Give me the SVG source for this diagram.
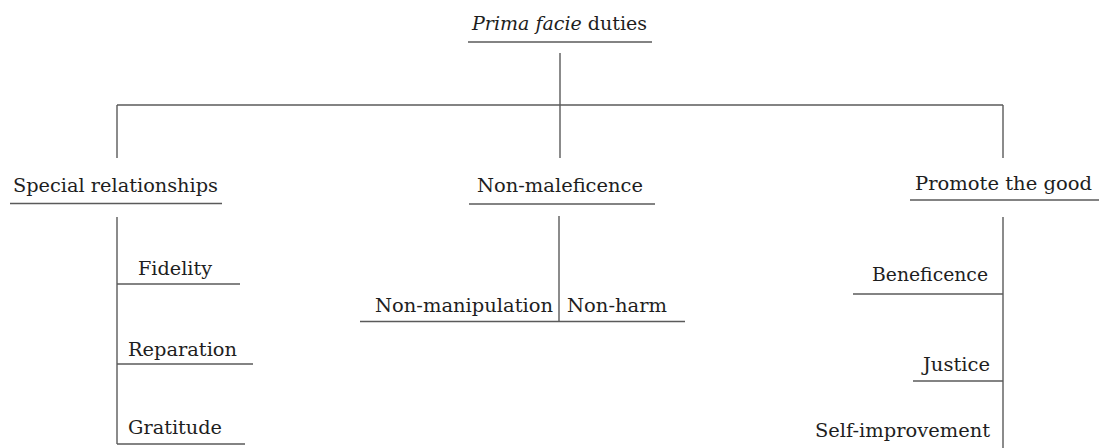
<svg xmlns="http://www.w3.org/2000/svg" width="1099" height="448" viewBox="0 0 1099 448">
  <style>
    .lbl { font-family: "DejaVu Serif", "Liberation Serif", serif; font-size: 19px; fill: #1e1e1e; }
    .ul { stroke: #5a5a5a; stroke-width: 1.4; fill: none; }
    .cn { stroke: #5a5a5a; stroke-width: 1.4; fill: none; }
  </style>
  <rect width="1099" height="448" fill="#ffffff"/>

  <!-- tree connectors -->
  <g id="connectors">
    <path class="cn" d="M560 53 V158"/>
    <path class="cn" d="M117 105 H1003"/>
    <path class="cn" d="M117 105 V158"/>
    <path class="cn" d="M1003 105 V158"/>
    <path class="cn" d="M117 217 V444"/>
    <path class="cn" d="M559 216 V322"/>
    <path class="cn" d="M1003 217 V448"/>
  </g>

  <g id="root">
    <text class="lbl" x="472" y="30" textLength="175" lengthAdjust="spacingAndGlyphs"><tspan font-style="italic">Prima facie</tspan> duties</text>
    <path class="ul" d="M468 42 H652"/>
  </g>

  <g id="special">
    <text class="lbl" x="13" y="192" textLength="205" lengthAdjust="spacingAndGlyphs">Special relationships</text>
    <path class="ul" d="M10 203.5 H222"/>
  </g>

  <g id="nonmaleficence">
    <text class="lbl" x="477" y="192" textLength="166" lengthAdjust="spacingAndGlyphs">Non-maleficence</text>
    <path class="ul" d="M469 204 H655"/>
  </g>

  <g id="promote">
    <text class="lbl" x="915" y="190" textLength="177" lengthAdjust="spacingAndGlyphs">Promote the good</text>
    <path class="ul" d="M910 200 H1099"/>
  </g>

  <g id="fidelity">
    <text class="lbl" x="138" y="275" textLength="74" lengthAdjust="spacingAndGlyphs">Fidelity</text>
    <path class="ul" d="M117 284 H240"/>
  </g>

  <g id="reparation">
    <text class="lbl" x="128" y="356" textLength="109" lengthAdjust="spacingAndGlyphs">Reparation</text>
    <path class="ul" d="M117 364 H253"/>
  </g>

  <g id="gratitude">
    <text class="lbl" x="128" y="434" textLength="94" lengthAdjust="spacingAndGlyphs">Gratitude</text>
    <path class="ul" d="M117 444 H245"/>
  </g>

  <g id="nonmanipulation">
    <text class="lbl" x="375" y="312" textLength="178" lengthAdjust="spacingAndGlyphs">Non-manipulation</text>
    <path class="ul" d="M360 321.5 H559"/>
  </g>

  <g id="nonharm">
    <text class="lbl" x="567" y="312" textLength="100" lengthAdjust="spacingAndGlyphs">Non-harm</text>
    <path class="ul" d="M559 321.5 H685"/>
  </g>

  <g id="beneficence">
    <text class="lbl" x="872" y="281" textLength="116" lengthAdjust="spacingAndGlyphs">Beneficence</text>
    <path class="ul" d="M853 294 H1003"/>
  </g>

  <g id="justice">
    <text class="lbl" x="923" y="371" textLength="67" lengthAdjust="spacingAndGlyphs">Justice</text>
    <path class="ul" d="M913 381 H1003"/>
  </g>

  <g id="selfimprovement">
    <text class="lbl" x="815" y="437" textLength="175" lengthAdjust="spacingAndGlyphs">Self-improvement</text>
  </g>
</svg>
